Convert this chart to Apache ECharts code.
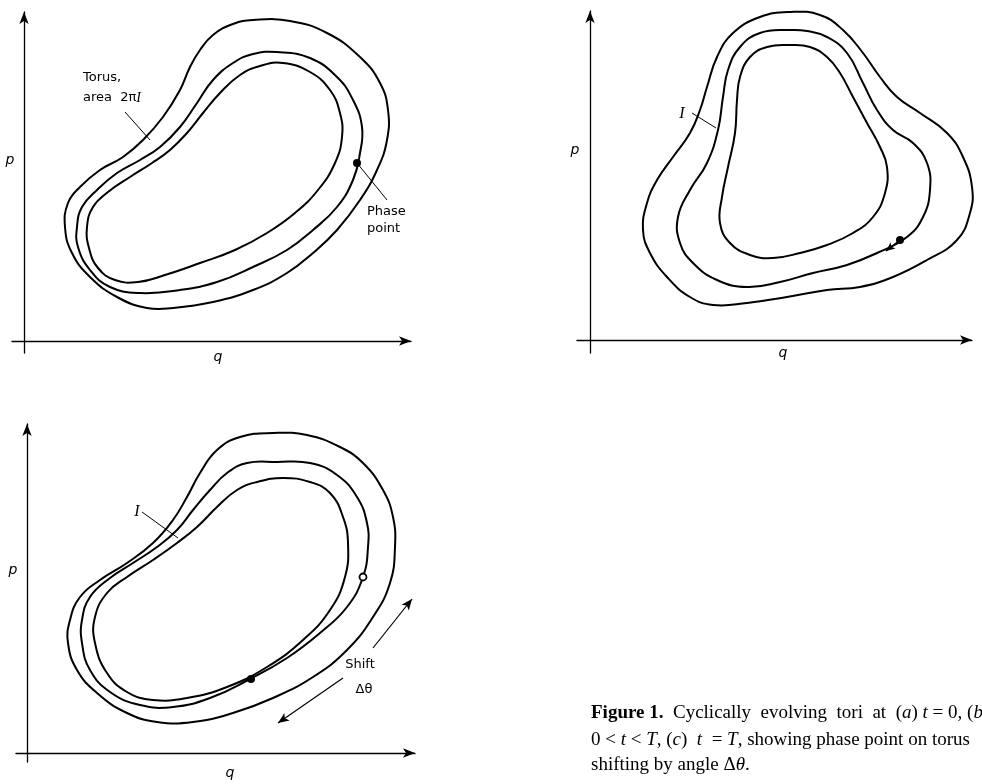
<!DOCTYPE html>
<html><head><meta charset="utf-8">
<script src="https://cdn.jsdelivr.net/npm/echarts@6/dist/echarts.min.js"></script>
<style>html,body{margin:0;padding:0;background:#fff}#c{width:982px;height:784px}</style>
</head><body><div id="c"></div>
<script>
// ---- data: closed torus curves as [q, p] in each panel's own units ----
// Panel (a), t = 0
const outerA = [[229,321],[266,320],[303,308],[336,284],[356,258],[364,231],[363,201],[353,171],[336,141],[313,111],[289,88],[263,68],[229,51],[189,39],[149,33],[123,33],[93,44],[66,64],[48,88],[41,114],[44,138],[56,154],[76,171],[99,184],[119,201],[139,224],[156,251],[166,274],[176,291],[189,306],[209,317]];
const middleA = [[253,289],[286,283],[313,264],[329,241],[338,214],[336,188],[329,161],[313,134],[289,111],[263,91],[229,74],[193,59],[156,51],[116,48],[86,54],[66,71],[54,94],[53,114],[58,134],[73,151],[93,168],[116,181],[136,194],[156,214],[173,238],[189,261],[209,278],[229,287]];
const innerA = [[259,278],[286,269],[306,251],[316,228],[318,204],[311,178],[294,151],[271,128],[243,108],[211,91],[176,78],[141,66],[114,59],[91,61],[74,73],[65,93],[63,114],[69,134],[84,149],[106,164],[128,178],[146,191],[163,208],[179,228],[196,248],[216,266],[236,275]];
const phaseA = [[333,178]];
// Panel (b), 0 < t < T
const outerB = [[200,328],[170,323],[143,307],[127,283],[117,253],[110,230],[100,207],[83,183],[67,160],[57,137],[53,110],[60,87],[77,63],[100,43],[123,35],[157,37],[197,43],[237,50],[270,53],[303,63],[337,80],[367,100],[380,127],[382,153],[373,183],[357,207],[330,227],[307,243],[290,263],[273,287],[253,310],[230,325]];
const middleB = [[200,310],[170,307],[150,293],[138,270],[133,243],[128,210],[117,177],[100,150],[88,123],[90,97],[103,77],[127,60],[157,53],[190,58],[223,67],[257,75],[287,87],[317,103],[333,123],[340,150],[337,177],[323,197],[303,210],[287,230],[273,257],[257,287],[237,303],[217,309]];
const innerB = [[200,295],[177,293],[160,283],[150,263],[147,240],[145,207],[138,173],[132,143],[130,117],[140,97],[160,85],[183,82],[210,87],[237,95],[263,107],[283,123],[295,147],[297,173],[290,193],[277,217],[263,243],[250,267],[237,283],[220,293]];
const phaseB = [[310,100]];
const phaseArrowB = [[310,100],[296,89]];
// Panel (c), t = T
const outerC = [[246,320],[213,316],[190,303],[173,280],[160,256],[146,233],[126,210],[100,190],[73,173],[53,156],[43,133],[41,110],[50,83],[70,60],[100,40],[130,31],[166,31],[206,40],[246,55],[286,76],[320,103],[346,136],[363,170],[368,206],[366,236],[356,263],[336,290],[313,306],[280,318]];
const middleC = [[250,291],[220,290],[200,280],[183,263],[166,243],[150,223],[130,206],[106,190],[83,175],[63,156],[55,133],[55,110],[63,83],[83,61],[113,48],[146,46],[183,55],[223,74],[260,95],[293,120],[320,146],[336,176],[341,206],[340,230],[330,256],[310,278],[283,290]];
const innerC = [[256,275],[230,271],[210,263],[190,246],[170,226],[150,210],[126,193],[100,176],[80,160],[68,136],[68,110],[80,80],[100,61],[126,53],[160,55],[200,66],[240,86],[276,113],[303,143],[318,176],[321,210],[316,236],[303,260],[283,271]];
const startC = [[336,176]];
const endC = [[224,74]];
const shiftUpC = [[346,105],[385,154]];
const shiftDownC = [[316,75],[251,30]];
// leader lines for annotations
const leaderTorusA = [[101,229],[126,201]];
const leaderPhaseA = [[333,178],[363,141]];
const leaderIB = [[102,227],[126,212]];
const leaderIC = [[115,241],[151,215]];
// axis extents [min, max] per panel
const xRange = [[-12,387],[-13,382],[-11,388]];
const yRange = [[-12,329],[-13,329],[-9,329]];

const chart = echarts.init(document.getElementById('c'), null, {renderer:'canvas'});
const axisLine = {show:true,onZero:true,symbol:['none','arrow'],symbolSize:[7,12],lineStyle:{color:'#000',width:1.3}};
function mkAxis(i, r){return {type:'value',gridIndex:i,min:r[0],max:r[1],axisLine:axisLine,axisTick:{show:false},axisLabel:{show:false},splitLine:{show:false}};}
// closed smooth loop drawn through the library's coordinate mapping
function curve(i, d){
  return {type:'custom',xAxisIndex:i,yAxisIndex:i,data:d,silent:true,z:3,clip:false,
    encode:{x:0,y:1},
    renderItem:function(params, api){
      if(params.dataIndex!==0) return null;
      const pts = d.map(function(v){return api.coord(v);});
      return {type:'polygon',shape:{points:pts,smooth:0.45},style:{fill:'none',stroke:'#000',lineWidth:2}};
    }};
}
function leader(i, d){return {type:'line',xAxisIndex:i,yAxisIndex:i,data:d,symbol:'none',silent:true,lineStyle:{color:'#000',width:1},z:2};}
function dot(i, d, hollow){return {type:'scatter',xAxisIndex:i,yAxisIndex:i,data:d,symbol:'circle',symbolSize:hollow?7:8,silent:true,itemStyle:{color:hollow?'#fff':'#000',borderColor:'#000',borderWidth:hollow?1.8:0,opacity:1},z:5};}
function arrows(i, list, size, width){
  return {type:'line',xAxisIndex:i,yAxisIndex:i,data:[],silent:true,symbol:'none',
    markLine:{silent:true,symbol:['none','arrow'],symbolSize:size,label:{show:false},
      lineStyle:{color:'#000',width:width,type:'solid'},
      data:list.map(function(a){return [{coord:a.p[0],lineStyle:{curveness:a.c}},{coord:a.p[1]}];})}};
}

const sans = '"DejaVu Sans"';
const serif = '"Liberation Serif"';
function txt(x,y,t,font,align){return {type:'text',x:x,y:y,silent:true,style:{text:t,font:font,fill:'#000',align:align||'center',verticalAlign:'middle'}};}
const lab = '13px ' + sans;
const ital = 'italic 14px ' + sans;
const capFont = '19px ' + serif;
const rich = {b:{font:'bold 19px '+serif,fill:'#000'},i:{font:'italic 19px '+serif,fill:'#000'}};
function cap(y,t){return {type:'text',x:591,y:y,silent:true,style:{text:t,font:capFont,fill:'#000',align:'left',verticalAlign:'middle',rich:rich}};}

const option = {
  animation:false,
  backgroundColor:'#fff',
  grid:[
    {left:12,top:12,width:399,height:341},
    {left:577,top:11,width:395,height:342},
    {left:16,top:424,width:399,height:338}
  ],
  xAxis:[mkAxis(0,xRange[0]),mkAxis(1,xRange[1]),mkAxis(2,xRange[2])],
  yAxis:[mkAxis(0,yRange[0]),mkAxis(1,yRange[1]),mkAxis(2,yRange[2])],
  series:[
    curve(0,outerA),curve(0,middleA),curve(0,innerA),
    leader(0,leaderTorusA),leader(0,leaderPhaseA),dot(0,phaseA),
    curve(1,outerB),curve(1,middleB),curve(1,innerB),
    arrows(1,[{p:phaseArrowB,c:0}],[6,9],1.5),
    leader(1,leaderIB),dot(1,phaseB),
    curve(2,outerC),curve(2,middleC),curve(2,innerC),
    arrows(2,[{p:shiftUpC,c:-0.12},{p:shiftDownC,c:-0.1}],[7,11],1.2),
    leader(2,leaderIC),dot(2,endC),dot(2,startC,true)
  ],
  graphic:[
    txt(10,160,'p',ital),txt(218,357,'q',ital),
    txt(83,78,'Torus,',lab,'left'),
    {type:'text',x:83,y:98,silent:true,style:{text:'area  2π{i|I}',font:lab,fill:'#000',align:'left',verticalAlign:'middle',rich:{i:{font:'italic 14px '+serif,fill:'#000'}}}},
    txt(367,212,'Phase',lab,'left'),txt(367,229,'point',lab,'left'),
    txt(575,150,'p',ital),txt(783,353,'q',ital),
    txt(682,114,'I','italic 16px '+serif),
    txt(13,570,'p',ital),txt(230,773,'q',ital),
    txt(137,512,'I','italic 16px '+serif),
    txt(360,665,'Shift',lab),txt(364,690,'Δθ',lab),
    cap(713,'{b|Figure 1.}  Cyclically  evolving  tori  at  ({i|a}) {i|t} = 0, ({i|b}'),
    cap(740,'0 < {i|t} < {i|T}, ({i|c})  {i|t}  = {i|T}, showing phase point on torus'),
    cap(765,'shifting by angle Δ{i|θ}.')
  ]
};
chart.setOption(option);
</script></body></html>
